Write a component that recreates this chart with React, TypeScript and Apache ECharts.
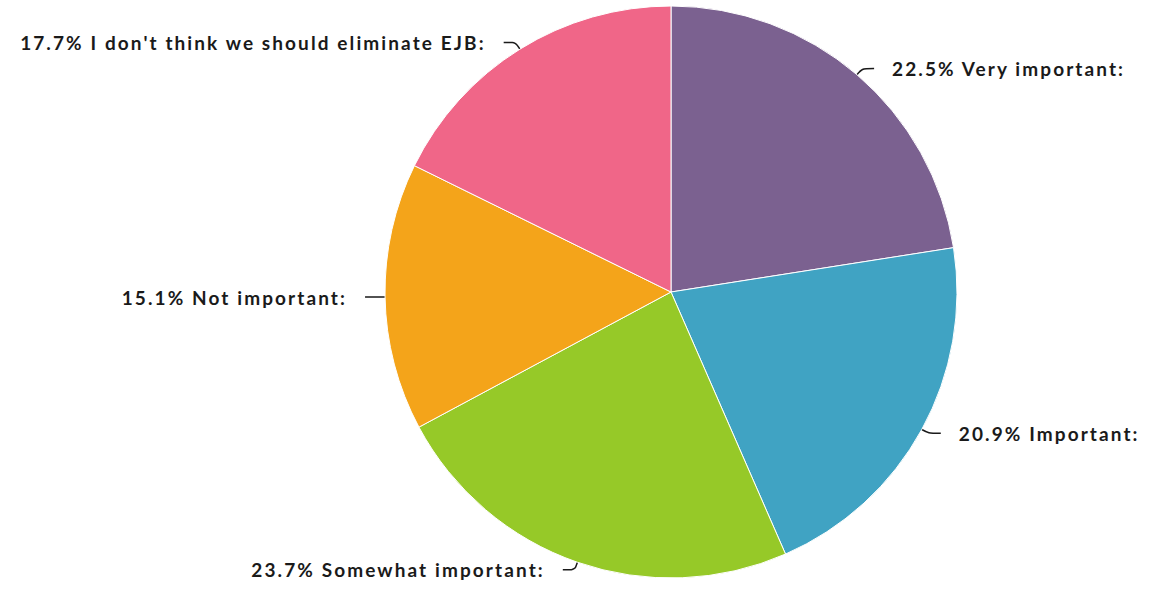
import React, { useEffect, useRef } from "react";
import * as echarts from "echarts";

const categories = [
  "Very important",
  "Important",
  "Somewhat important",
  "Not important",
  "I don't think we should eliminate EJB",
];
const values = [22.5, 20.9, 23.7, 15.1, 17.7];
const colors = ["#7b6190", "#40a3c3", "#96c928", "#f4a41a", "#f06688"];

export default function App() {
  const ref = useRef<HTMLDivElement>(null);
  useEffect(() => {
    if (!ref.current) return;
    const chart = echarts.init(ref.current, null, { renderer: "svg" });
    chart.setOption({
      animation: false,
      series: [
        {
          type: "pie",
          center: [671, 292],
          radius: 286,
          startAngle: 90,
          clockwise: true,
          data: categories.map((name, i) => ({
            name,
            value: values[i],
            itemStyle: { color: colors[i] },
          })),
          itemStyle: { borderColor: "#fff", borderWidth: 1 },
          label: {
            show: true,
            formatter: (p: any) => `${p.value.toFixed(1)}% ${p.name}:`,
            fontFamily: "Lato",
            fontWeight: "bold",
            fontSize: 19,
            color: "#1a1a1a",
            distanceToLabelLine: 18,
          },
          labelLine: {
            show: true,
            length: 8,
            length2: 12,
            smooth: true,
            lineStyle: { color: "#1a1a1a", width: 1.5 },
          },
        },
      ],
    });
    return () => chart.dispose();
  }, []);
  return (
    <>
      <style>{`#pie-chart text { letter-spacing: 2.1px; }`}</style>
      <div
        id="pie-chart"
        ref={ref}
        style={{ position: "absolute", left: 0, top: 0, width: 1154, height: 592 }}
      />
    </>
  );
}
